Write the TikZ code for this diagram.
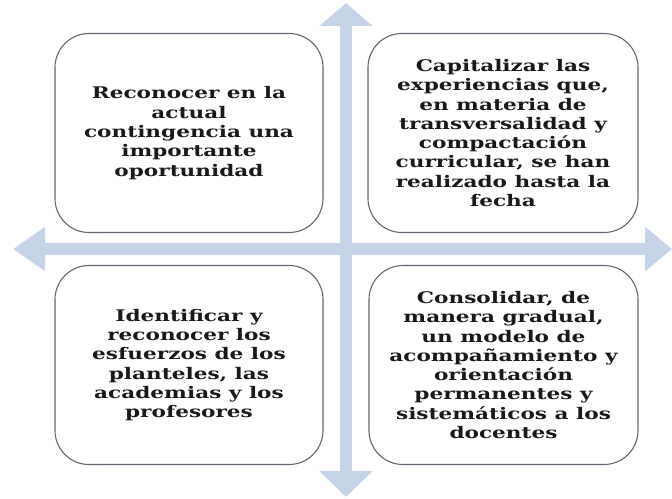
\documentclass[tikz,border=0pt]{standalone}
\usepackage{fontspec}
\newfontfamily\boxfont{DejaVu Serif}[FakeStretch=1.35]
\usetikzlibrary{arrows.meta}
\definecolor{arrowblue}{HTML}{C6D4E9}
\definecolor{boxline}{HTML}{5E6873}
\tikzset{
  quad/.style={draw=boxline, line width=1.1pt, fill=white, rounded corners=34pt,
    minimum width=268pt, minimum height=199pt, align=center, inner sep=0pt,
    font=\boxfont\bfseries\fontsize{16}{19.3}\selectfont, text=black!90},
  axisarrow/.style={draw=arrowblue, line width=12pt},
}
\begin{document}
\begin{tikzpicture}[x=1pt,y=-1pt]
\useasboundingbox (0,0) rectangle (672,498);
\coordinate (vt) at (346,3);
\coordinate (vb) at (346,497);
\coordinate (hl) at (13,249);
\coordinate (hr) at (672,249);
\draw[axisarrow, arrows={Triangle[width=52pt,length=23pt,fill=arrowblue]-Triangle[width=52pt,length=26pt,fill=arrowblue]}] (vt) -- (vb);
\draw[axisarrow, arrows={Triangle[width=42pt,length=32pt,fill=arrowblue]-Triangle[width=43pt,length=27pt,fill=arrowblue]}] (hl) -- (hr);
\node[quad] (tl) at (189,133) {Reconocer en la\\actual\\contingencia una\\importante\\oportunidad};
\node[quad, minimum width=270pt] (tr) at (503,133) {Capitalizar las\\experiencias que,\\en materia de\\transversalidad y\\compactación\\curricular, se han\\realizado hasta la\\fecha};
\node[quad] (bl) at (189,365) {Identificar y\\reconocer los\\esfuerzos de los\\planteles, las\\academias y los\\profesores};
\node[quad, minimum width=269pt] (br) at (503.5,365) {Consolidar, de\\manera gradual,\\un modelo de\\acompañamiento y\\orientación\\permanentes y\\sistemáticos a los\\docentes};
\end{tikzpicture}
\end{document}
